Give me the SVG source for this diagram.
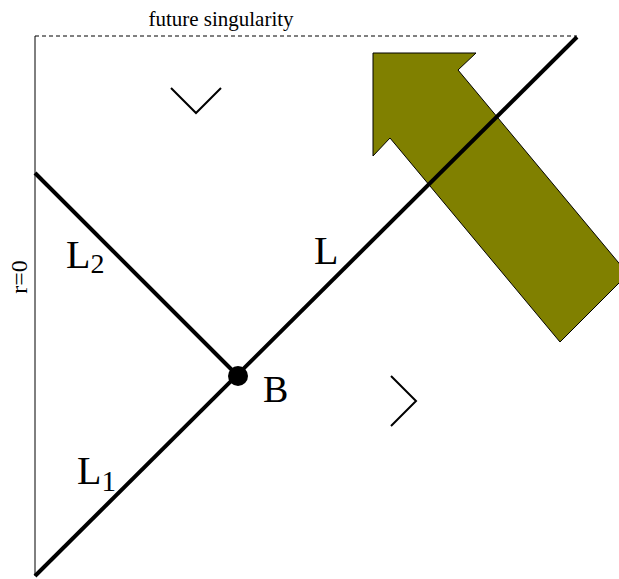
<svg xmlns="http://www.w3.org/2000/svg" width="619" height="579" viewBox="0 0 619 579">
<style>
  text { font-family: "Liberation Serif", "Times New Roman", serif; fill: #000; }
  .thick { stroke: #000; stroke-width: 4; fill: none; }
  .thin { stroke: #000; stroke-width: 1; fill: none; }
  .chev { stroke: #000; stroke-width: 2; fill: none; }
</style>
<rect width="619" height="579" fill="#fff"/>
<g id="frame">
  <line class="thin" x1="35" y1="36" x2="35" y2="576"/>
  <line class="thin" x1="35" y1="36" x2="577" y2="36" stroke-dasharray="4,3"/>
  <text x="221" y="26" font-size="21" text-anchor="middle">future singularity</text>
  <text transform="translate(27,277) rotate(-90)" font-size="24" text-anchor="middle">r=0</text>
</g>
<g id="arrow">
  <polygon points="373,53 476,53 458,70 628,274 560,342 390,138 373,156" fill="#808000" stroke="#000" stroke-width="1"/>
</g>
<g id="connectors">
  <line class="thick" x1="35" y1="576" x2="577" y2="37"/>
  <line class="thick" x1="35" y1="173" x2="238" y2="376"/>
</g>
<g id="node-B">
  <circle cx="238" cy="376" r="10" fill="#000"/>
  <text x="263" y="402" font-size="38">B</text>
</g>
<g id="label-L">
  <text x="314" y="264" font-size="40">L</text>
</g>
<g id="label-L1">
  <text x="77" y="484" font-size="40">L<tspan font-size="29" dy="7">1</tspan></text>
</g>
<g id="label-L2">
  <text x="66" y="268" font-size="40">L<tspan font-size="28" dy="5">2</tspan></text>
</g>
<g id="chevrons">
  <polyline class="chev" points="171,88 196,113 221,88"/>
  <polyline class="chev" points="391,376 416,401 391,426"/>
</g>
</svg>
